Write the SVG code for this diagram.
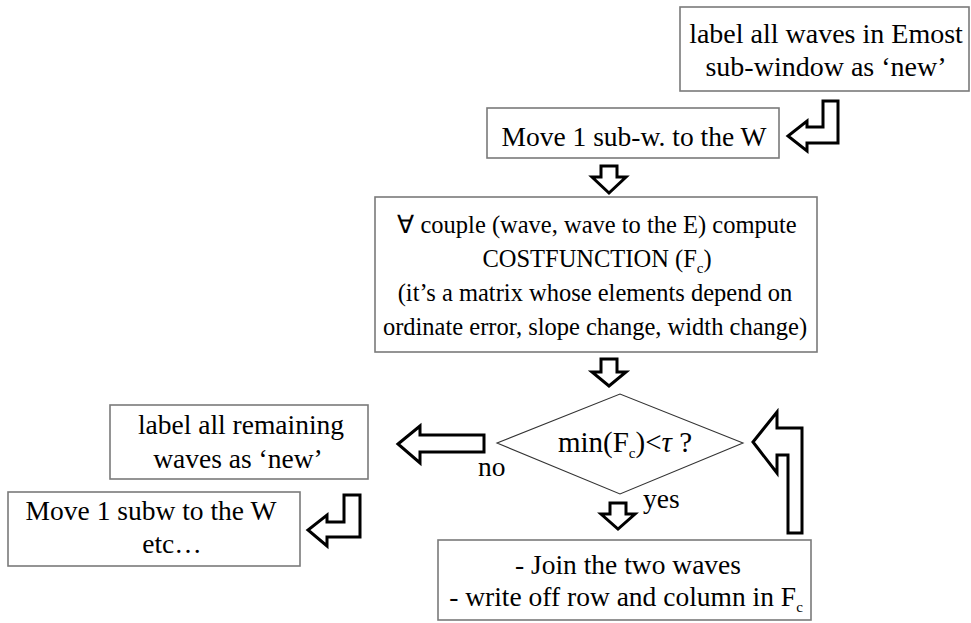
<svg xmlns="http://www.w3.org/2000/svg" width="971" height="623" viewBox="0 0 971 623">
<style>
.box{fill:#fff;stroke:#7a7a7a;stroke-width:1.6}
.dia{fill:#fff;stroke:#333;stroke-width:1.1}
.arr{fill:#fff;stroke:#000;stroke-width:3;stroke-linejoin:miter}
text{font-family:"Liberation Serif","Times New Roman",serif;font-size:27.5px;fill:#000}
.m{text-anchor:middle}
.s{font-size:24.5px}
.b{font-size:28px}
.sub{font-size:15px}
.q{font-size:29px}
.i{font-style:italic}
</style>
<rect width="971" height="623" fill="#fff"/>
<g id="n1">
<rect class="box" x="680" y="7" width="289" height="84"/>
<text class="m b" x="826" y="43">label all waves in Emost</text>
<text class="m b" x="826" y="76">sub-window as ‘new’</text>
</g>
<g id="n2">
<rect class="box" x="487" y="108" width="292" height="50"/>
<text class="m" x="634" y="146">Move 1 sub-w. to the W</text>
</g>
<g id="n3">
<rect class="box" x="375" y="197" width="442" height="155"/>
<text class="m s" x="597" y="233">∀ couple (wave, wave to the E) compute</text>
<text class="m s" x="597" y="267">COSTFUNCTION (F<tspan class="sub" dy="6">c</tspan><tspan dy="-6">)</tspan></text>
<text class="m s" x="595" y="301">(it’s a matrix whose elements depend on</text>
<text class="m s" x="595" y="335">ordinate error, slope change, width change)</text>
</g>
<g id="n4">
<polygon class="dia" points="497,443 620,394 743,443 620,494"/>
<text class="m q" x="625" y="452">min(F<tspan class="sub" dy="6">c</tspan><tspan dy="-6">)&lt;</tspan><tspan class="i">τ</tspan> ?</text>
</g>
<g id="n5">
<rect class="box" x="438" y="540" width="373" height="80"/>
<text class="m" x="628" y="574">- Join the two waves</text>
<text class="m" x="626" y="606">- write off row and column in F<tspan class="sub" dy="6">c</tspan></text>
</g>
<g id="n6">
<rect class="box" x="110" y="405" width="258" height="74"/>
<text class="m" x="241" y="434">label all remaining</text>
<text class="m" x="238" y="468">waves as ‘new’</text>
</g>
<g id="n7">
<rect class="box" x="8" y="492" width="292" height="74"/>
<text class="m" x="151" y="520">Move 1 subw to the W</text>
<text class="m" x="172" y="553">etc…</text>
</g>
<g id="connectors">
<path class="arr" d="M838,101 L823,101 L823,127 L807,127 L807,121 L788,136 L807,151 L807,143 L838,143 Z"/>
<path class="arr" d="M601,166 L617,166 L617,177 L626,177 L609,193 L592,177 L601,177 Z"/>
<path class="arr" d="M601,359 L617,359 L617,372 L626,372 L609,386 L592,372 L601,372 Z"/>
<path class="arr" d="M610,503 L626,503 L626,514 L635,514 L618,529 L601,514 L610,514 Z"/>
<path class="arr" d="M398,444 L420,426 L420,435 L484,435 L484,452 L420,452 L420,463 Z"/>
<path class="arr" d="M753,442 L777,412 L777,428 L802,428 L802,533 L788,533 L788,455 L777,455 L777,473 Z"/>
<path class="arr" d="M360,495 L344,495 L344,522 L327,522 L327,515 L308,530 L327,546 L327,537 L360,537 Z"/>
<text x="478" y="476">no</text>
<text x="643" y="508">yes</text>
</g>
</svg>
